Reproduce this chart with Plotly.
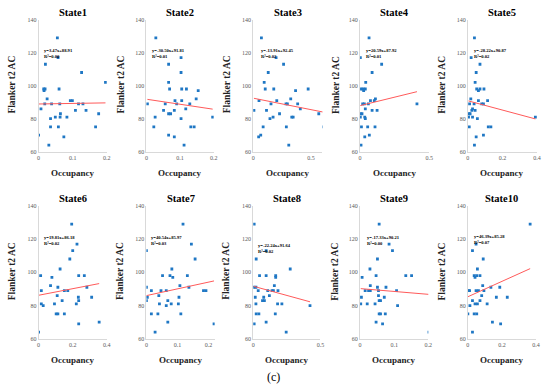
import plotly.graph_objects as go

W, H = 550, 391

states = ["State1", "State2", "State3", "State4", "State5",
          "State6", "State7", "State8", "State9", "State10"]

state1_occ = [0.055, 0.057, 0.02, 0.126, 0.196, 0.015, 0.019, 0.016, 0.06, 0.093, 0.099, 0.018, 0.038, 0.062, 0.117, 0.13,
              0.025, 0.007, 0.108, 0.139, 0.064, 0.176, 0.049, 0.063, 0.083, 0.035, 0.035, 0.058, 0.167, 0.0, 0.074, 0.03]
state1_ac = [129, 117, 113, 108, 102, 98, 98, 97, 98, 91, 91, 89, 89, 89, 89, 89,
             92, 86, 85, 85, 83, 83, 81, 81, 81, 80, 75, 75, 75, 70, 69, 64]

state2_occ = [0.028, 0.103, 0.066, 0.103, 0.066, 0.069, 0.105, 0.119, 0.154, 0.148, 0.085, 0.105, 0.003, 0.056, 0.09, 0.129,
              0.117, 0.051, 0.083, 0.066, 0.072, 0.026, 0.197, 0.103, 0.022, 0.132, 0.142, 0.066, 0.083, 0.112]
state2_ac = [129, 117, 113, 108, 102, 98, 98, 98, 97, 92, 91, 91, 89, 89, 89, 89,
             86, 85, 85, 83, 83, 81, 81, 80, 75, 75, 75, 70, 69, 64]

state3_occ = [0.071, 0.198, 0.263, 0.13, 0.095, 0.104, 0.178, 0.367, 0.476, 0.325, 0.204, 0.05, 0.154, 0.284, 0.296, 0.385,
              0.408, 0.006, 0.115, 0.228, 0.568, 0.172, 0.334, 0.346, 0.145, 0.086, 0.287, 0.609, 0.065, 0.047, 0.308]
state3_ac = [129, 117, 113, 108, 102, 98, 98, 97, 98, 92, 91, 91, 89, 89, 89, 89,
             86, 85, 85, 83, 83, 81, 81, 81, 80, 75, 75, 75, 70, 69, 64]

state4_occ = [0.065, 0.002, 0.156, 0.087, 0.041, 0.007, 0.022, 0.038, 0.026, 0.111, 0.075, 0.103, 0.019, 0.031, 0.06, 0.411,
              0.038, 0.087, 0.123, 0.002, 0.014, 0.002, 0.034, 0.038, 0.01, 0.055, 0.108, 0.067, 0.034, 0.007]
state4_ac = [129, 117, 113, 108, 102, 98, 98, 98, 97, 92, 91, 91, 89, 89, 89, 89,
             86, 85, 85, 83, 83, 81, 81, 80, 75, 75, 75, 70, 69, 64]

state5_occ = [0.038, 0.019, 0.07, 0.048, 0.042, 0.051, 0.07, 0.093, 0.061, 0.017, 0.061, 0.114, 0.01, 0.036, 0.08, 0.09,
              0.027, 0.023, 0.042, 0.006, 0.013, 0.004, 0.027, 0.39, 0.055, 0.008, 0.118, 0.133, 0.09, 0.048, 0.038]
state5_ac = [129, 117, 113, 108, 102, 98, 98, 98, 97, 92, 91, 91, 89, 89, 89, 89,
             86, 85, 85, 83, 83, 81, 81, 81, 80, 75, 75, 75, 70, 69, 64]

state6_occ = [0.194, 0.225, 0.2, 0.183, 0.126, 0.012, 0.235, 0.268, 0.078, 0.07, 0.113, 0.283, 0.016, 0.151, 0.171,
              0.109, 0.233, 0.311, 0.138, 0.235, 0.016, 0.093, 0.221, 0.027, 0.103, 0.113, 0.151, 0.355, 0.235, 0.0]
state6_ac = [129, 117, 113, 108, 102, 98, 98, 98, 97, 92, 91, 91, 89, 89, 89,
             86, 85, 85, 83, 83, 81, 81, 81, 80, 75, 75, 75, 70, 69, 64]

state7_occ = [0.118, 0.145, 0.0, 0.157, 0.082, 0.052, 0.076, 0.132, 0.085, 0.108, 0.0, 0.137, 0.016, 0.047, 0.064, 0.184,
              0.192, 0.04, 0.003, 0.105, 0.0, 0.069, 0.042, 0.08, 0.103, 0.064, 0.016, 0.037, 0.111, 0.069, 0.218, 0.028]
state7_ac = [129, 117, 113, 108, 102, 98, 98, 98, 97, 92, 91, 91, 89, 89, 89, 89,
             89, 86, 85, 85, 83, 83, 81, 81, 81, 80, 75, 75, 75, 70, 69, 64]

state8_occ = [0.007, 0.022, 0.096, 0.047, 0.096, 0.167, 0.167, 0.275, 0.157, 0.005, 0.02, 0.037, 0.108, 0.14, 0.15, 0.184,
              0.12, 0.015, 0.078, 0.069, 0.083, 0.02, 0.181, 0.213, 0.422, 0.022, 0.042, 0.164, 0.096, 0.007, 0.245]
state8_ac = [129, 108, 113, 98, 98, 97, 98, 102, 92, 91, 91, 89, 89, 89, 89, 89,
             86, 85, 85, 83, 83, 81, 81, 81, 80, 75, 75, 75, 70, 69, 64]

state9_occ = [0.056, 0.085, 0.095, 0.051, 0.029, 0.006, 0.047, 0.134, 0.151, 0.03, 0.051, 0.076, 0.015, 0.025, 0.03, 0.054,
              0.107, 0.054, 0.004, 0.071, 0.056, 0.06, 0.002, 0.021, 0.044, 0.11, 0.056, 0.06, 0.074, 0.047, 0.066, 0.202]
state9_ac = [129, 117, 113, 108, 102, 97, 98, 98, 98, 92, 91, 91, 89, 89, 89, 89,
             89, 86, 85, 85, 83, 83, 81, 81, 81, 80, 75, 75, 75, 70, 69, 64]

state10_occ = [0.365, 0.048, 0.027, 0.09, 0.056, 0.037, 0.042, 0.052, 0.071, 0.087, 0.135, 0.187, 0.004, 0.01, 0.048, 0.062,
               0.094, 0.081, 0.167, 0.231, 0.027, 0.071, 0.042, 0.056, 0.113, 0.012, 0.0, 0.037, 0.052, 0.144, 0.192, 0.027]
state10_ac = [129, 117, 113, 108, 102, 98, 97, 98, 98, 92, 91, 91, 89, 89, 89, 89,
              89, 86, 85, 85, 83, 83, 81, 81, 81, 80, 75, 75, 75, 70, 69, 64]

slopes = [3.47, -30.50, -13.91, 20.59, -28.22, 19.81, 40.54, -22.24, -17.33, 46.39]
intercepts = [88.91, 91.81, 92.45, 87.92, 90.87, 86.18, 85.97, 91.64, 90.21, 85.28]
r2_labels = ["0.00", "0.01", "0.02", "0.01", "0.02", "0.02", "0.03", "0.02", "0.00", "0.07"]

x_ranges = [[0, 0.2], [0, 0.2], [0, 0.6], [0, 0.5], [0, 0.4],
            [0, 0.4], [0, 0.22], [0, 0.5], [0, 0.2], [0, 0.4]]
x_ticks = [[0, 0.1, 0.2], [0, 0.1, 0.2], [0, 0.5], [0, 0.5], [0, 0.2, 0.4],
           [0, 0.2, 0.4], [0, 0.1, 0.2], [0, 0.5], [0, 0.1, 0.2], [0, 0.2, 0.4]]
y_ticks = [60, 80, 100, 120, 140]

occs = [state1_occ, state2_occ, state3_occ, state4_occ, state5_occ,
        state6_occ, state7_occ, state8_occ, state9_occ, state10_occ]
acs = [state1_ac, state2_ac, state3_ac, state4_ac, state5_ac,
       state6_ac, state7_ac, state8_ac, state9_ac, state10_ac]

# layout in pixels
col_x = [[37, 106], [146, 214], [254, 324], [362, 432], [471, 541]]
col_x2 = [[37, 106], [146, 215], [254, 322], [362, 431], [471, 540]]
row_y = [[17, 151], [206, 341]]
eq_pos = [(40, 48), (150, 48), (260, 48), (366, 48), (475, 48),
          (40, 238), (149, 238), (257, 246), (367, 238), (475, 237)]
ytitle_x = [10, 120, 227, 337, 445]

def fx(p):
    return p / W

def fy(p):
    return 1 - p / H

SERIF = "Liberation Serif, Times New Roman, serif"
BLUE = "#1f77c4"
RED = "#ff5a5a"

fig = go.Figure()
annotations = []

for i in range(10):
    r, c = divmod(i, 5)
    n = i + 1
    xa = "x" if n == 1 else f"x{n}"
    ya = "y" if n == 1 else f"y{n}"
    xs = occs[i]
    ys = acs[i]
    fig.add_trace(go.Scatter(
        x=xs, y=ys, mode="markers", xaxis=xa, yaxis=ya,
        marker=dict(color=BLUE, size=2.8, symbol="square"),
        showlegend=False, hoverinfo="x+y"))
    x0, x1 = min(xs), max(xs)
    fig.add_trace(go.Scatter(
        x=[x0, x1], y=[slopes[i] * x0 + intercepts[i], slopes[i] * x1 + intercepts[i]],
        mode="lines", xaxis=xa, yaxis=ya,
        line=dict(color=RED, width=1), showlegend=False, hoverinfo="skip"))

    cx = col_x[c] if r == 0 else col_x2[c]
    ry = row_y[r]
    ax_key = "xaxis" if n == 1 else f"xaxis{n}"
    ay_key = "yaxis" if n == 1 else f"yaxis{n}"
    fig.update_layout({
        ax_key: dict(domain=[fx(cx[0]), fx(cx[1])], anchor=ya, range=x_ranges[i],
                     tickvals=x_ticks[i], ticktext=[("%g" % t) for t in x_ticks[i]],
                     showgrid=False, zeroline=False, showline=True, linecolor="#d9d9d9", linewidth=1,
                     ticks="", ticklabeloverflow="allow",
                     tickfont=dict(family=SERIF, size=6, color="#595959")),
        ay_key: dict(domain=[fy(ry[1]), fy(ry[0])], anchor=xa, range=[60, 140],
                     tickvals=y_ticks, showgrid=False, zeroline=False, showline=True,
                     linecolor="#d9d9d9", linewidth=1, ticks="", ticklabeloverflow="allow",
                     tickfont=dict(family=SERIF, size=6, color="#595959")),
    })

    midx = (cx[0] + cx[1]) / 2
    # title
    annotations.append(dict(text="<b>%s</b>" % states[i], x=fx(midx), y=fy(ry[0] - 7), xref="paper", yref="paper",
                            showarrow=False, font=dict(family=SERIF, size=10.5, color="black"),
                            xanchor="center", yanchor="middle"))
    # x title
    annotations.append(dict(text="<b>Occupancy</b>", x=fx(midx), y=fy(ry[1] + 22), xref="paper", yref="paper",
                            showarrow=False, font=dict(family=SERIF, size=9, color="#222"),
                            xanchor="center", yanchor="middle"))
    # y title
    annotations.append(dict(text="<b>Flanker t2 AC</b>", x=fx(ytitle_x[c]), y=fy((ry[0] + ry[1]) / 2 - 1),
                            xref="paper", yref="paper", showarrow=False, textangle=-90,
                            font=dict(family=SERIF, size=9.5, color="#222"),
                            xanchor="center", yanchor="middle"))
    # equation
    eq = "y=%.2fx+%.2f" % (slopes[i], intercepts[i])
    ex, ey = eq_pos[i]
    annotations.append(dict(text="<b>%s</b>" % eq, x=fx(ex), y=fy(ey), xref="paper", yref="paper",
                            showarrow=False, font=dict(family=SERIF, size=4.6, color="black"),
                            xanchor="left", yanchor="middle"))
    annotations.append(dict(text="<b>R²=%s</b>" % r2_labels[i], x=fx(ex), y=fy(ey + 6), xref="paper", yref="paper",
                            showarrow=False, font=dict(family=SERIF, size=4.6, color="black"),
                            xanchor="left", yanchor="middle"))

annotations.append(dict(text="(c)", x=fx(274), y=fy(380), xref="paper", yref="paper", showarrow=False,
                        font=dict(family=SERIF, size=12, color="black"), xanchor="center", yanchor="middle"))

fig.update_layout(width=W, height=H, margin=dict(l=0, r=0, t=0, b=0),
                  paper_bgcolor="white", plot_bgcolor="white",
                  annotations=annotations, showlegend=False)

fig.write_html("out.html", config={"displayModeBar": False},
               post_script="document.body.style.margin='0';document.body.style.overflow='hidden';")
